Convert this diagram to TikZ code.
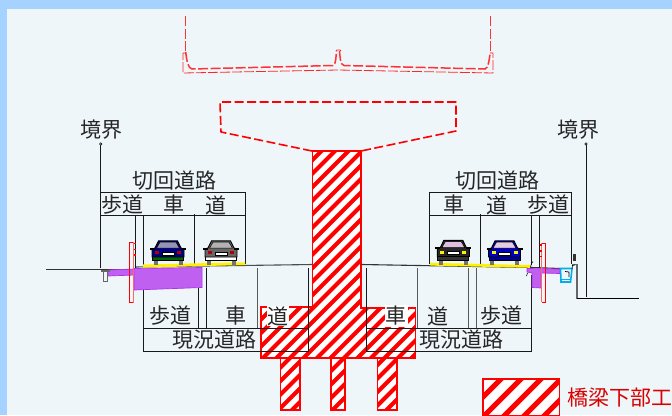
\documentclass[tikz,border=0pt]{standalone}
\usepackage{fontspec}
\setmainfont{Noto Sans CJK JP}
\definecolor{panel}{HTML}{EEF6FA}
\definecolor{edge}{HTML}{A6D2FF}
\definecolor{purp}{HTML}{B030F0}
\definecolor{purpfill}{HTML}{C060F0}
\tikzset{
  lbl/.style={inner sep=0pt,text=black!85,font=\fontsize{21}{21}\selectfont},
  thin line/.style={draw=black!90,line width=1pt},
  grey line/.style={draw=black!65,line width=1.1pt},
  reddash/.style={draw=red,line width=1.6pt,dash pattern=on 9pt off 3.5pt,line join=round},
  girder/.style={draw=red!80,line width=1.5pt,dash pattern=on 10pt off 2.5pt},
  girderthin/.style={draw=red!85,line width=0.8pt,dash pattern=on 10pt off 2pt},
  purplefill/.style={fill=purpfill,draw=purp,line width=0.7pt},
  fence/.style={draw=red,line width=1pt},
}
\newcommand{\hatchfill}[4]{% path, period, stripe width, border width
  \begin{scope}
    \clip #1;
    \fill[white] (0,0) rectangle (672,415);
    \foreach \s in {0,#2,...,1200} {\draw[red,line width=#3pt] (\s,0) -- (\s-430,430);}
  \end{scope}
  \draw[red,line width=#4pt,line join=miter] #1;
}
\newcommand{\carpic}[6]{% x, y, body, glass, lamp, lower
  \begin{scope}[shift={(#1,#2)}]
    \fill[black!55] (-14.5,17) rectangle (-10.5,25);
    \fill[black!55] (10.5,17) rectangle (14.5,25);
    \fill[#6,draw=black,line width=0.7pt] (-15.5,9) -- (15.5,9) -- (15.5,20.5) -- (-15.5,20.5) -- cycle;
    \fill[#3,draw=black,line width=0.9pt] (-9.5,0.8) -- (9.5,0.8) -- (13,8) -- (16,9) -- (16,17) -- (-16,17) -- (-16,9) -- (-13,8) -- cycle;
    \fill[#4,draw=black,line width=0.5pt] (-8,2.2) -- (8,2.2) -- (11.5,8.2) -- (-11.5,8.2) -- cycle;
    \fill[black] (-18,7.5) rectangle (-13,9.7);
    \fill[black] (13,7.5) rectangle (18,9.7);
    \fill[#5] (-13,11) rectangle (-9,14);
    \fill[#5] (9,11) rectangle (13,14);
    \fill[white,draw=black,line width=0.3pt] (-6,12) rectangle (6,15);
  \end{scope}
}
\begin{document}
\begin{tikzpicture}[x=1pt,y=-1pt]
\useasboundingbox (0,0) rectangle (672,415);
\fill[edge] (0,0) rectangle (672,415);
\fill[panel] (7,9) rectangle (672,415);

% superstructure
\draw[girder] (185.7,16) -- (185.7,52);
\draw[girder] (490.3,16) -- (490.3,52);
\draw[girder] (185.7,52) .. controls (187,62) and (188,68) .. (192,69) -- (333,65.5) .. controls (336,65) and (336,56) .. (336.5,51);
\draw[girder] (339.5,51) .. controls (340,56) and (340,65) .. (344,65.5) -- (485,69) .. controls (488,68) and (489,62) .. (490.3,52);
\draw[girderthin] (186,53) -- (183,53) -- (183,73) -- (338,70) -- (493,73) -- (493,53) -- (490,53);
\draw[draw=red!85,line width=0.8pt] (336,51) -- (337,50) -- (340,50) -- (341,51);

% pier head
\draw[reddash] (312,151) -- (221,132) -- (220,102) -- (456,102) -- (456,131) -- (361,151);

% sub structure
\hatchfill{(312.5,151) -- (361,151) -- (361,308) -- (415.5,308) -- (415.5,358) -- (261,358) -- (261,307) -- (312.5,307) -- cycle}{13.5}{4}{1.5}
\hatchfill{(280.5,358) -- (300,358) -- (300,410) -- (280.5,410) -- cycle}{13.5}{4}{1.5}
\hatchfill{(331,358) -- (345,358) -- (345,410) -- (331,410) -- cycle}{13.5}{4}{1.5}
\hatchfill{(377.5,358) -- (397,358) -- (397,410) -- (377.5,410) -- cycle}{13.5}{4}{1.5}
\hatchfill{(483,379) -- (559.5,379) -- (559.5,416) -- (483,416) -- cycle}{20}{5}{1.6}

% boundaries
\coordinate (bl) at (100.7,144); \coordinate (br) at (586,144);
\draw[thin line] (bl) -- (100.7,268);
\draw[thin line] (br) -- (586,297);
\draw[black,line width=0.5pt,fill=panel] (bl) circle (1.3);
\draw[black,line width=0.5pt,fill=panel] (br) circle (1.3);

% ground lines
\draw[black!80,line width=1.1pt] (46,269.5) -- (135,269.5);
\draw[black!70,line width=1.1pt] (135,267) -- (313,264.5);
\draw[black!80,line width=1.1pt] (361.5,264.5) -- (532,267.5) -- (560,268.5);
\draw[black!60,line width=1.2pt] (572,264.5) -- (577,264.5) -- (577,298.5);
\draw[black,line width=1.1pt] (577,298.5) -- (639,298.5);

% upper dimension frames
\draw[thin line] (100.7,192) -- (245.7,192) -- (245.7,264);
\draw[thin line] (100.7,215.5) -- (245.7,215.5);
\draw[thin line] (135.7,215.5) -- (135.7,269);
\draw[thin line] (143.3,215.5) -- (143.3,267);
\draw[thin line] (194.3,214) -- (194.3,265);
\draw[thin line] (429.3,192) -- (571,192) -- (571,264);
\draw[thin line] (429.3,192) -- (429.3,264);
\draw[thin line] (429.3,215.5) -- (571,215.5);
\draw[thin line] (480.3,214) -- (480.3,265);
\draw[thin line] (531.7,215.5) -- (531.7,265);
\draw[thin line] (539.3,215.5) -- (539.3,268);

% lower dimension frames
\draw[thin line] (143.3,289) -- (143.3,351) -- (308.3,351) -- (308.3,268);
\draw[thin line] (143.3,328) -- (308.3,328);
\draw[thin line] (198.3,288) -- (198.3,328);
\draw[thin line] (206.3,268) -- (206.3,328);
\draw[grey line] (257.3,268) -- (257.3,328);
\draw[thin line] (366.3,268) -- (366.3,351) -- (531,351) -- (531,275);
\draw[thin line] (366.3,328) -- (531,328);
\draw[grey line] (417.3,268) -- (417.3,328);
\draw[grey line] (468.3,268) -- (468.3,328);
\draw[grey line] (476.3,268) -- (476.3,328);

% road surface
\fill[yellow] (143,264.5) -- (245,262.3) -- (245,265) -- (143,267.6) -- cycle;
\fill[yellow] (430,262.8) -- (530,265) -- (530,267.8) -- (430,265.6) -- cycle;

% left side works
\draw[purplefill] (108,270) -- (135,269) -- (135,275) -- (108,276) -- cycle;
\draw[purplefill] (134,268.5) -- (202,267.5) -- (202,287.5) -- (134,290) -- cycle;
\draw[black!60,fill=panel,line width=0.9pt] (103.5,271) rectangle (107,281);
\draw[black!60,fill=black!10,line width=0.6pt] (101.5,269.8) rectangle (109,271.5);
\draw[fence,draw=red!60,line width=0.8pt] (133.3,242) -- (133.3,302.5);
\draw[fence] (129.5,302.5) -- (129.5,242) -- (133,242);
\draw[fence] (129.5,302.5) -- (133,302.5);
\draw[red,line width=1.6pt] (133.5,243.5) -- (135.5,243.5) (133.5,249.5) -- (135.5,249.5) (133.5,255) -- (135.5,255);

% right side works
\draw[purplefill] (527,268.5) -- (560,269) -- (560,273.5) -- (541,273) -- (541,288) -- (532,287.5) -- (532,273) -- (527,272) -- cycle;
\draw[cyan,line width=1.6pt] (560.5,268.5) -- (572,268.5) -- (570.5,282) -- (561,282) -- cycle;
\draw[cyan,line width=0.7pt] (561,279.5) -- (570,279.5);
\draw[black,line width=0.7pt] (565,271.5) -- (569,272) -- (569,277);
\draw[fence,draw=red!60,line width=0.8pt] (541.7,243) -- (541.7,302);
\draw[fence] (541.7,243) -- (545.7,243) -- (545.7,302) -- (541.7,302);
\draw[red,line width=1.6pt] (539.7,245) -- (541.7,245) (539.7,251) -- (541.7,251) (539.7,256.5) -- (541.7,256.5);
\fill[black!80] (573,254) rectangle (576,261);
\draw[black,line width=0.6pt] (572,269) -- (572.5,265.5) -- (575,265);
\draw[black,line width=0.6pt] (530.5,267) -- (531.5,263.5) -- (533,261.5);
\draw[black,line width=0.6pt] (526.5,276) -- (527.5,273);

% cars
\carpic{168}{240}{blue!50!black}{blue!20!gray!70}{red!70!black}{green!40!black}
\carpic{221}{240}{black!60}{black!30}{red!70!black}{white}
\carpic{453.3}{239.5}{black!85}{violet!25!white}{yellow}{black!80}
\carpic{504.5}{240}{blue!75!black}{violet!20!white}{yellow}{blue!60!black}

% labels
\node[lbl] (k1) at (101.5,129.5) {境界};
\node[lbl] (k2) at (578.5,129.5) {境界};
\node[lbl] (u1) at (174.5,181) {切回道路};
\node[lbl] (u2) at (122,205) {歩道};
\node[lbl] (u3) at (173.5,205) {車};
\node[lbl] (u4) at (215.5,205) {道};
\node[lbl] (u5) at (497,181) {切回道路};
\node[lbl] (u6) at (454,205) {車};
\node[lbl] (u7) at (497,205) {道};
\node[lbl] (u8) at (548,205) {歩道};
\node[lbl] (l1) at (170.5,316) {歩道};
\node[lbl] (l2) at (236,316) {車};
\node[lbl,fill=white,inner sep=0.5pt] (l3) at (278,316) {道};
\node[lbl,fill=white,inner sep=1pt] (l4) at (396,316) {車};
\node[lbl] (l5) at (438,316) {道};
\node[lbl] (l6) at (501,316) {歩道};
\node[lbl] (g1) at (214,340) {現況道路};
\node[lbl] (g2) at (461,340) {現況道路};
\node[lbl,text=red!85!black,anchor=west] (leg) at (567,398) {橋梁下部工};
\end{tikzpicture}
\end{document}
